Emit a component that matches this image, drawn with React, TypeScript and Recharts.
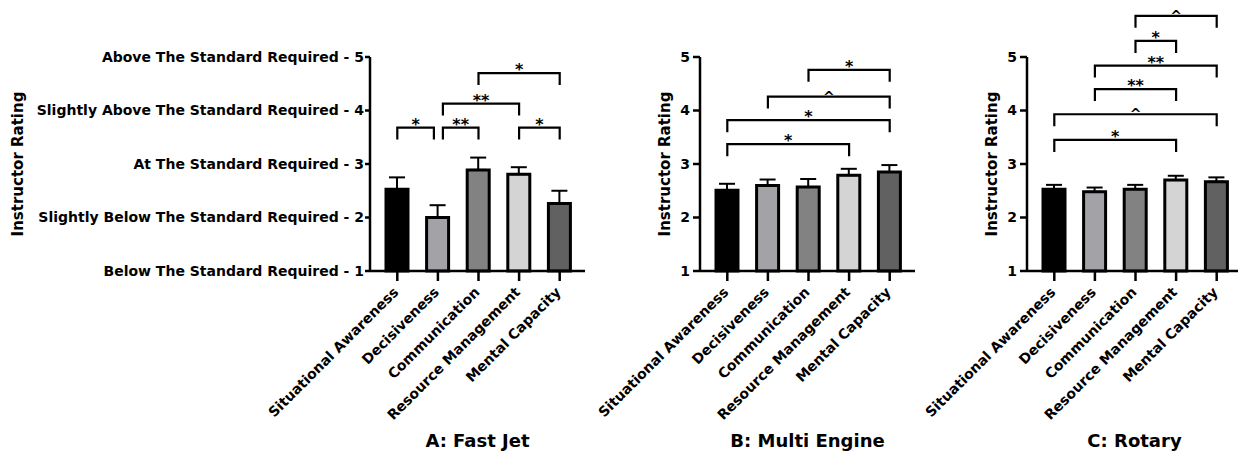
import React from 'react';
import { BarChart, Bar, XAxis, YAxis, ErrorBar, Cell, ReferenceLine, Label } from 'recharts';

const categories = ['Situational Awareness', 'Decisiveness', 'Communication', 'Resource Management', 'Mental Capacity'];
const barFills = ['#000000', '#a3a2a7', '#828282', '#d4d4d4', '#616161'];

const meansFastJet = [2.53, 2.0, 2.89, 2.81, 2.26];
const semFastJet = [0.22, 0.23, 0.23, 0.13, 0.24];
const meansMultiEngine = [2.51, 2.6, 2.57, 2.79, 2.85];
const semMultiEngine = [0.12, 0.11, 0.15, 0.12, 0.13];
const meansRotary = [2.53, 2.48, 2.53, 2.7, 2.67];
const semRotary = [0.08, 0.08, 0.08, 0.08, 0.08];

const ratingTicks = [1, 2, 3, 4, 5];
const ratingLabels = [
  'Below The Standard Required - 1',
  'Slightly Below The Standard Required - 2',
  'At The Standard Required - 3',
  'Slightly Above The Standard Required - 4',
  'Above The Standard Required - 5',
];

// significance brackets: category indices, height in rating units, symbol
const bracketsFastJet = [
  { from: 0, to: 1, y: 3.68, sig: '*' },
  { from: 1, to: 2, y: 3.68, sig: '**' },
  { from: 3, to: 4, y: 3.68, sig: '*' },
  { from: 1, to: 3, y: 4.13, sig: '**' },
  { from: 2, to: 4, y: 4.7, sig: '*' },
];
const bracketsMultiEngine = [
  { from: 0, to: 3, y: 3.37, sig: '*' },
  { from: 0, to: 4, y: 3.82, sig: '*' },
  { from: 1, to: 4, y: 4.26, sig: '^' },
  { from: 2, to: 4, y: 4.76, sig: '*' },
];
const bracketsRotary = [
  { from: 0, to: 3, y: 3.45, sig: '*' },
  { from: 0, to: 4, y: 3.93, sig: '^' },
  { from: 1, to: 3, y: 4.4, sig: '**' },
  { from: 1, to: 4, y: 4.84, sig: '**' },
  { from: 2, to: 3, y: 5.3, sig: '*' },
  { from: 2, to: 4, y: 5.77, sig: '^' },
];

// style: pixel nudges of bracket ends (start, end) by bracket index
const nudgesFastJet: Record<number, [number, number]> = { 0: [0, -4], 1: [5, 0], 3: [5, 0] };

const PLOT_W = 215;
const PLOT_TOP = 57;
const X_AXIS_H = 185;
const CHART_H = 456;
const LEG = 12;
const FONT = '"DejaVu Sans", "Liberation Sans", sans-serif';

const symbolBaseline: Record<string, number> = { '*': 2, '**': 2, '^': 5 };
const symbolSize: Record<string, number> = { '*': 16, '**': 16, '^': 14 };

function makeBracketShape(sig: string, n1: number, n2: number) {
  return (p: any) => {
    const a = p.x1 + n1;
    const b = p.x2 + n2;
    const y = p.y1;
    return (
      <g>
        <path d={`M${a},${y + LEG}V${y}H${b}V${y + LEG}`} fill="none" stroke="#000" strokeWidth={2.2} />
        <text
          x={(a + b) / 2}
          y={y + symbolBaseline[sig]}
          textAnchor="middle"
          fontSize={symbolSize[sig]}
          fontWeight="bold"
          fontFamily={FONT}
          fill="#000"
        >
          {sig}
        </text>
      </g>
    );
  };
}

const XTick = (props: any) => {
  const { x, y, payload } = props;
  return (
    <g transform={`translate(${x + 2},${y + 10}) rotate(-45)`}>
      <text textAnchor="end" fontSize={14} fontWeight="bold" fontFamily={FONT} fill="#000">
        {payload.value}
      </text>
    </g>
  );
};

type PanelProps = {
  left: number;
  yAxisWidth: number;
  means: number[];
  sems: number[];
  brackets: { from: number; to: number; y: number; sig: string }[];
  nudges?: Record<number, [number, number]>;
  title: string;
  longTicks: boolean;
  yTitleOffset: number;
};

function Panel({ left, yAxisWidth, means, sems, brackets, nudges = {}, title, longTicks, yTitleOffset }: PanelProps) {
  const data = categories.map((c, i) => ({ name: c, mean: means[i], err: [0, sems[i]] }));
  const width = yAxisWidth + PLOT_W + 5;
  return (
    <div style={{ position: 'absolute', left, top: 0 }}>
      <BarChart width={width} height={CHART_H} data={data} margin={{ top: PLOT_TOP, right: 5, bottom: 0, left: 0 }}>
        <XAxis
          dataKey="name"
          type="category"
          height={X_AXIS_H}
          padding={{ left: 7, right: 5 }}
          interval={0}
          tick={<XTick />}
          tickSize={10}
          axisLine={{ stroke: '#000', strokeWidth: 2.5 }}
          tickLine={{ stroke: '#000', strokeWidth: 2.5 }}
        >
          <Label
            value={title}
            position="insideBottom"
            offset={9}
            style={{ fontSize: 18, fontWeight: 'bold', fill: '#000', fontFamily: FONT }}
          />
        </XAxis>
        <YAxis
          type="number"
          domain={[1, 5]}
          ticks={ratingTicks}
          interval={0}
          width={yAxisWidth}
          tickFormatter={(v: number) => (longTicks ? ratingLabels[v - 1] : String(v))}
          tick={{ fill: '#000', fontSize: 14, fontWeight: 'bold', fontFamily: FONT }}
          tickSize={longTicks ? 5 : 7}
          tickMargin={longTicks ? 1 : 3}
          axisLine={{ stroke: '#000', strokeWidth: 2.5 }}
          tickLine={{ stroke: '#000', strokeWidth: 2.5 }}
        >
          <Label
            value="Instructor Rating"
            angle={-90}
            position="insideLeft"
            offset={yTitleOffset}
            style={{ textAnchor: 'middle', fontSize: 15, fontWeight: 'bold', fill: '#000', fontFamily: FONT }}
          />
        </YAxis>
        <Bar dataKey="mean" barSize={22} stroke="#000" strokeWidth={3} isAnimationActive={false}>
          {data.map((d, i) => (
            <Cell key={d.name} fill={barFills[i]} />
          ))}
          <ErrorBar dataKey="err" direction="y" width={8} stroke="#000" strokeWidth={2} isAnimationActive={false} />
        </Bar>
        {brackets.map((b, i) => {
          const n = nudges[i] || [0, 0];
          return (
            <ReferenceLine
              key={i}
              ifOverflow="visible"
              segment={[
                { x: categories[b.from], y: b.y },
                { x: categories[b.to], y: b.y },
              ]}
              shape={makeBracketShape(b.sig, n[0], n[1])}
            />
          );
        })}
      </BarChart>
    </div>
  );
}

export default function App() {
  return (
    <div
      style={{
        position: 'absolute',
        left: 0,
        top: 0,
        width: 1238,
        height: 456,
        overflow: 'hidden',
        background: '#fff',
        fontFamily: FONT,
      }}
    >
      <Panel
        left={0}
        yAxisWidth={370}
        means={meansFastJet}
        sems={semFastJet}
        brackets={bracketsFastJet}
        nudges={nudgesFastJet}
        title="A: Fast Jet"
        longTicks={true}
        yTitleOffset={18}
      />
      <Panel
        left={560}
        yAxisWidth={140}
        means={meansMultiEngine}
        sems={semMultiEngine}
        brackets={bracketsMultiEngine}
        title="B: Multi Engine"
        longTicks={false}
        yTitleOffset={105}
      />
      <Panel
        left={880}
        yAxisWidth={147}
        means={meansRotary}
        sems={semRotary}
        brackets={bracketsRotary}
        title="C: Rotary"
        longTicks={false}
        yTitleOffset={112}
      />
    </div>
  );
}
